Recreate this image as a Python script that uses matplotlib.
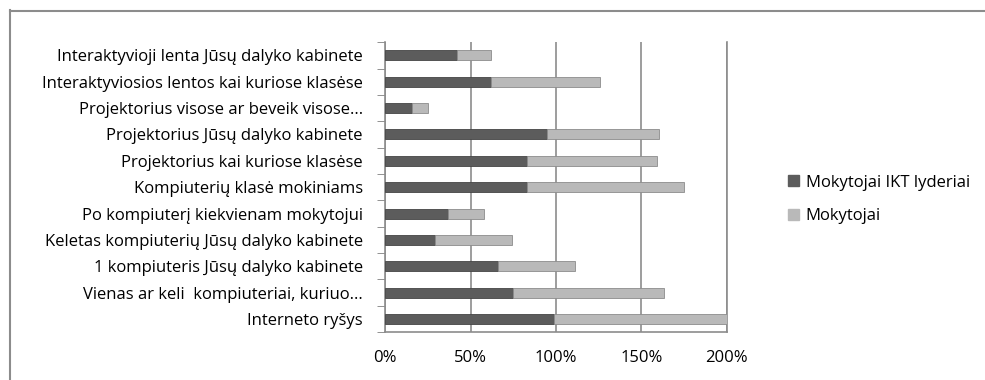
import matplotlib
matplotlib.use("Agg")
import matplotlib.pyplot as plt
from matplotlib.lines import Line2D
from matplotlib.patches import Patch
import numpy as np

# categories listed top to bottom as in the chart
categories = [
    "Interaktyvioji lenta Jūsų dalyko kabinete",
    "Interaktyviosios lentos kai kuriose klasėse",
    "Projektorius visose ar beveik visose...",
    "Projektorius Jūsų dalyko kabinete",
    "Projektorius kai kuriose klasėse",
    "Kompiuterių klasė mokiniams",
    "Po kompiuterį kiekvienam mokytojui",
    "Keletas kompiuterių Jūsų dalyko kabinete",
    "1 kompiuteris Jūsų dalyko kabinete",
    "Vienas ar keli  kompiuteriai, kuriuo...",
    "Interneto ryšys",
]
lyderiai = [42, 62, 16, 95, 83, 83, 37, 29, 66, 75, 99]
mokytojai = [20, 64, 9, 65, 76, 92, 21, 45, 45, 88, 101]
xticks = [0, 50, 100, 150, 200]

DARK = "#5c5c5c"
LIGHT = "#b9b9b9"
FS = 12
plt.rcParams["font.family"] = ["Open Sans", "DejaVu Sans"]

fig = plt.figure(figsize=(9.85, 3.8), dpi=100)
ax = fig.add_axes([0.391, 0.126, 0.347, 0.763])

n = len(categories)
y = np.arange(n)[::-1]
h = 0.38
ax.barh(y, lyderiai, height=h, color=DARK, edgecolor="#444444", linewidth=0.6, zorder=3)
ax.barh(y, mokytojai, left=lyderiai, height=h, color=LIGHT, edgecolor="#8c8c8c",
        linewidth=0.6, zorder=3)

ax.set_xlim(0, 200)
ax.set_ylim(-0.5, n - 0.5)
ax.set_xticks(xticks)
ax.set_xticklabels([f"{v}%" for v in xticks])
ax.set_yticks(y)
ax.set_yticklabels(categories)
ax.set_yticks(np.arange(n + 1) - 0.5, minor=True)
ax.tick_params(axis="y", which="major", length=0, pad=16, labelsize=FS)
ax.tick_params(axis="y", which="minor", length=6, color="#808080", direction="out")
ax.tick_params(axis="x", length=0, pad=13, labelsize=FS)
ax.grid(axis="x", color="#8c8c8c", linewidth=1.2, zorder=0)
ax.spines["top"].set_visible(False)
for side in ["left", "bottom", "right"]:
    ax.spines[side].set_color("#8c8c8c")
    ax.spines[side].set_linewidth(1.2)

fig.legend(handles=[Patch(color=DARK, label="Mokytojai IKT lyderiai"),
                    Patch(color=LIGHT, label="Mokytojai")],
           loc="center left", bbox_to_anchor=(0.785, 0.475), frameon=False,
           fontsize=FS, handlelength=0.65, handleheight=0.65, handletextpad=0.4,
           labelspacing=1.05)

# outer chart frame (left and top edges visible)
fig.add_artist(Line2D([9.5 / 985, 9.5 / 985], [0, 1 - 10 / 380], color="#8c8c8c", lw=1.5))
fig.add_artist(Line2D([9.5 / 985, 1], [1 - 10.5 / 380, 1 - 10.5 / 380], color="#8c8c8c", lw=1.5))

fig.savefig("out.png", dpi=100)
